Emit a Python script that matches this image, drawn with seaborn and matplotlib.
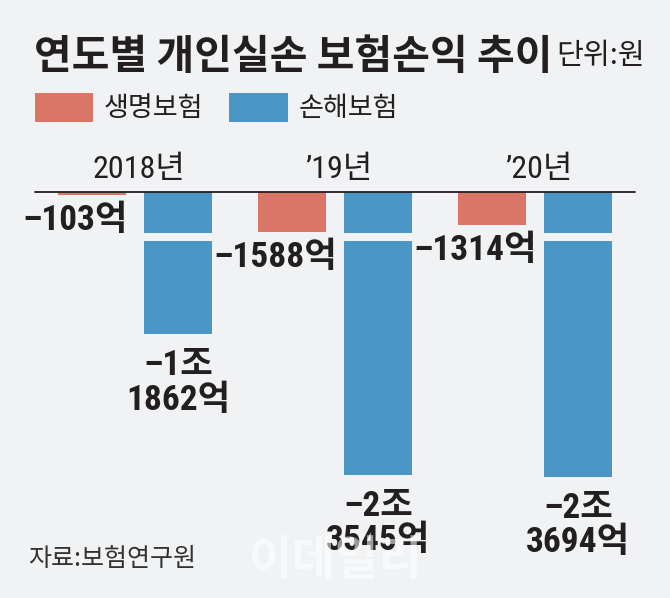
import matplotlib
matplotlib.use("Agg")
import matplotlib.pyplot as plt
from matplotlib import font_manager
from matplotlib.patches import Patch
import pandas as pd
import seaborn as sns

# 데이터 (단위: 억원)
YEARS = ["2018년", "’19년", "’20년"]
TYPES = ["생명보험", "손해보험"]
LIFE = [-103, -1588, -1314]
NONLIFE = [-11862, -23545, -23694]

BG = "#f1f2f4"
INK = "#231f20"
PALETTE = {"생명보험": "#d97665", "손해보험": "#4a96c4"}

# 두 축의 눈금 범위 (원본 인포그래픽은 계열마다 축척이 다름)
NONLIFE_LIM = -25650
LIFE_LIM = -12250
BREAK = (0.133, 0.159)  # 손해보험 막대의 끊김 표시 (축 높이 비율)

PT = 0.72  # 1px -> pt (dpi 100)


def pick_font(candidates, fallback="DejaVu Sans"):
    names = {f.name for f in font_manager.fontManager.ttflist}
    return next((n for n in candidates if n in names), fallback)


KR = "Noto Sans CJK KR"
NARROW = pick_font(["Roboto Condensed", "Liberation Sans Narrow", "Roboto"])
NUM = [NARROW, KR, "DejaVu Sans"]


def won_label(v):
    jo, eok = divmod(abs(v), 10000)
    if jo:
        return f"–{jo}조\n{eok}억"
    return f"–{eok}억"


life_df = pd.DataFrame({"year": YEARS, "type": TYPES[0], "value": LIFE})
nonlife_df = pd.DataFrame({"year": YEARS, "type": TYPES[1], "value": NONLIFE})

sns.set_style("white")
plt.rcParams["font.family"] = [KR, "DejaVu Sans"]

fig = plt.figure(figsize=(6.7, 5.98), dpi=100, facecolor=BG)
ax = fig.add_axes([35 / 670, 98 / 598, 600 / 670, 308 / 598])
ax.set_facecolor("none")
ax2 = ax.twinx()
ax2.set_facecolor("none")

bar_kw = dict(x="year", y="value", hue="type", order=YEARS, hue_order=TYPES,
              palette=PALETTE, dodge=True, width=0.86, gap=0.2,
              saturation=1, errorbar=None, legend=False, linewidth=0)
sns.barplot(data=nonlife_df, ax=ax, **bar_kw)
sns.barplot(data=life_df, ax=ax2, **bar_kw)

ax.set_ylim(NONLIFE_LIM, 0)
ax2.set_ylim(LIFE_LIM, 0)
for a in (ax, ax2):
    a.set_xlim(-0.5, 2.5)
    a.axis("off")

# 값 라벨
life_bars = sorted(ax2.patches, key=lambda p: p.get_x())
nonlife_bars = sorted(ax.patches, key=lambda p: p.get_x())

for p, v in zip(life_bars, LIFE):
    cx = p.get_x() + p.get_width() / 2
    ax2.annotate(won_label(v), xy=(cx, v), xytext=(-17 * PT, -9 * PT),
                 textcoords="offset points", ha="center", va="top",
                 family=NUM, fontsize=25.5, fontweight="bold", color=INK)

for p, v in zip(nonlife_bars, NONLIFE):
    cx = p.get_x() + p.get_width() / 2
    w = p.get_width()
    ax.annotate(won_label(v), xy=(cx, v), xytext=(0, -15 * PT),
                textcoords="offset points", ha="center", va="top",
                family=NUM, fontsize=25.5, fontweight="bold", color=INK,
                linespacing=1.05)
    # 막대 끊김 표시
    ax.bar(cx, (BREAK[1] - BREAK[0]) * NONLIFE_LIM, bottom=BREAK[0] * NONLIFE_LIM,
           width=w, color=BG, linewidth=0, zorder=5)

# 연도 라벨
for i, yr in enumerate(YEARS):
    ax2.annotate(yr, xy=(i, 1), xycoords=("data", "axes fraction"),
                 xytext=(4 * PT, 14 * PT), textcoords="offset points",
                 ha="center", va="baseline", family=NUM, fontsize=23,
                 color=INK)

# 기준선
ax2.axhline(0, color=INK, linewidth=1.3, zorder=10, clip_on=False)

# 제목 / 단위 / 범례 / 출처
fig.text(34 / 670, 1 - 69 / 598, "연도별 개인실손 보험손익 추이", fontsize=29.5,
         fontweight="bold", color=INK, va="baseline")
fig.text(556 / 670, 1 - 64 / 598, "단위:원", fontsize=21, color=INK, va="baseline")

handles = [Patch(facecolor=PALETTE[t], edgecolor="none") for t in TYPES]
fig.legend(handles, TYPES, loc="upper left", bbox_to_anchor=(35 / 670, 1 - 93 / 598),
           ncol=2, frameon=False, fontsize=19.5, handlelength=2.15, handleheight=1.25,
           handletextpad=0.4, columnspacing=0.95, borderpad=0, borderaxespad=0,
           labelcolor=INK)

fig.text(28 / 670, 1 - 566 / 598, "자료:보험연구원", fontsize=18, color="#333333",
         va="baseline")
fig.text(336 / 670, 1 - 575 / 598, "이데일리", fontsize=34, fontweight="bold",
         color="white", alpha=0.55, ha="center", va="baseline", zorder=0)

fig.savefig("out.png", dpi=100, facecolor=BG)
